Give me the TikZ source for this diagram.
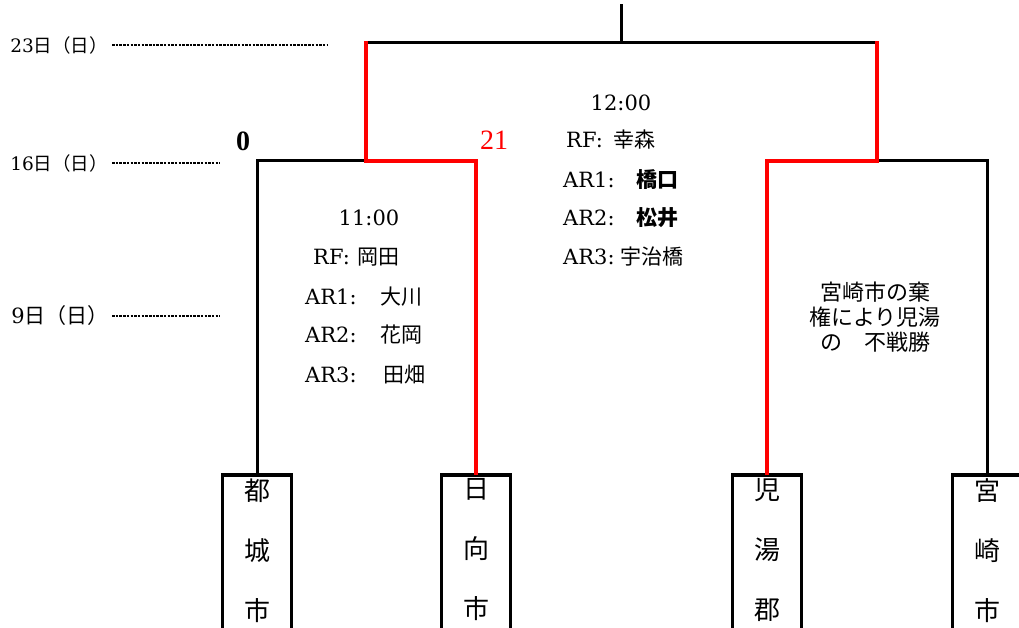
\documentclass[tikz,border=0pt]{standalone}
\usepackage{fontspec}
\setmainfont{DejaVu Serif}
\newfontfamily\jp{Noto Sans CJK JP}
\newfontfamily\scorefont{Liberation Serif}
\begin{document}
\begin{tikzpicture}[x=1pt,y=-1pt,
  blk/.style={line width=3pt, black},
  win/.style={line width=4.5pt, red, line cap=rect},
  team/.style={draw, line width=3.5pt, minimum width=69pt, anchor=north,
    inner xsep=0pt, inner ysep=4pt, align=center,
    font=\jp\fontsize{26}{60}\selectfont, text depth=170pt},
  txt/.style={inner sep=0pt, anchor=west, font=\fontsize{21}{24}\selectfont},
  score/.style={inner sep=0pt, font=\scorefont\fontsize{28}{30}\selectfont},
  datel/.style={inner sep=0pt, anchor=east},
  dotl/.style={line width=2pt, dash pattern=on 2.5pt off 1.2pt}
]
\clip (0,0) rectangle (1019,628);
\useasboundingbox (0,0) rectangle (1019,628);

% teams
\node[team] (miyakonojo) at (257,473) {都\\城\\市};
\node[team] (hyuga) at (476,473) {日\\向\\市};
\node[team] (koyu) at (767,473) {児\\湯\\郡};
\node[team] (miyazaki) at (987,473) {宮\\崎\\市};

% junctions
\coordinate (sfL) at (366,161);
\coordinate (sfR) at (877,161);
\coordinate (fL) at (366,43);
\coordinate (fR) at (877,43);
\coordinate (fM) at (621,43);
\coordinate (top) at (621,4);

% bracket lines
\draw[blk] (miyakonojo.north) |- (sfL);
\draw[blk] (miyazaki.north) |- (sfR);
\draw[blk] (fL) -- (fR);
\draw[blk] (fM) -- (top);
\draw[win] (hyuga.north) |- (sfL) -- (fL);
\draw[win] (koyu.north) |- (sfR) -- (fR);

% scores
\node[score] (s0) at (243,141) {\bfseries 0};
\node[score, text=red] (s21) at (494,140) {21};

% date labels
\node[datel, font=\fontsize{18.5}{20}\selectfont] (d23) at (108,45) {23{\jp 日（日）}};
\node[datel, font=\fontsize{18.5}{20}\selectfont] (d16) at (108,163) {16{\jp 日（日）}};
\node[datel, font=\fontsize{21}{23}\selectfont] (d9) at (109,316) {9{\jp 日（日）}};
\coordinate (e23) at (327,45);
\coordinate (e16) at (220,163);
\coordinate (e9) at (220,316);
\draw[dotl] ([xshift=4pt]d23.east) -- (e23);
\draw[dotl] ([xshift=4pt]d16.east) -- (e16);
\draw[dotl] ([xshift=3pt]d9.east) -- (e9);

% final officials
\node[txt, anchor=center] (t12) at (621,103) {12:00};
\node[txt] (rf2) at (566,140) {\makebox[47pt][l]{RF:}{\jp 幸森}};
\node[txt] (a21) at (563,180) {\makebox[73pt][l]{AR1:}{\jp\bfseries 橋口}};
\node[txt] (a22) at (563,218) {\makebox[73pt][l]{AR2:}{\jp\bfseries 松井}};
\node[txt] (a23) at (563,257) {\makebox[57pt][l]{AR3:}{\jp 宇治橋}};

% semifinal officials
\node[txt, anchor=center] (t11) at (369,218) {11:00};
\node[txt] (rf1) at (313,257) {\makebox[44pt][l]{RF:}{\jp 岡田}};
\node[txt] (a11) at (305,297) {\makebox[75pt][l]{AR1:}{\jp 大川}};
\node[txt] (a12) at (305,335) {\makebox[75pt][l]{AR2:}{\jp 花岡}};
\node[txt] (a13) at (305,375) {\makebox[78pt][l]{AR3:}{\jp 田畑}};

% walkover note
\node[inner sep=0pt, align=center, font=\jp\fontsize{22}{25}\selectfont] (note) at (875,317)
  {宮崎市の棄\\権により児湯\\の　不戦勝};
\end{tikzpicture}
\end{document}
